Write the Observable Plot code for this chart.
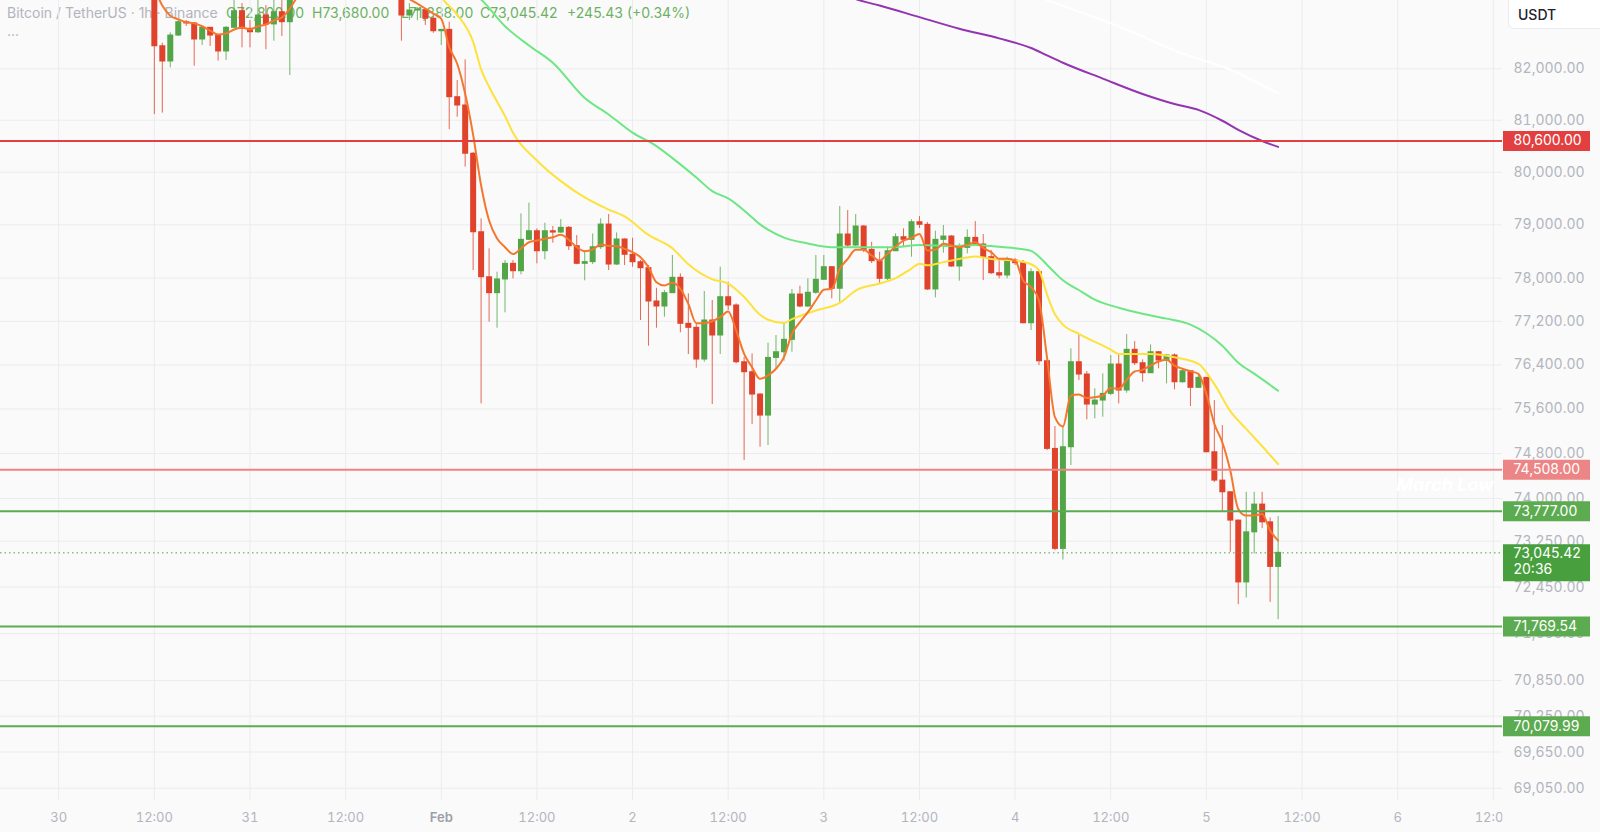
<!DOCTYPE html>
<html>
<head>
<meta charset="utf-8">
<script src="https://cdn.jsdelivr.net/npm/d3@7"></script>
<script src="https://cdn.jsdelivr.net/npm/@observablehq/plot@0.6"></script>
<style>
  html, body { margin: 0; padding: 0; background: #fafafa; }
  #wrap { position: relative; width: 1600px; height: 832px; overflow: hidden; font-family: Inter, "Noto Sans", sans-serif; }
  .leg { position: absolute; top: 4px; font-size: 14px; line-height: 18px; white-space: nowrap; color: #6db165; }
  .leg.title { color: #b2b4bd; }
  #dots { position: absolute; left: 7px; top: 22px; font-size: 14px; line-height: 18px; color: #b2b4bd; }
  #chart { position: absolute; left: 0; top: 0; z-index: 1; }
  #usdt { position: absolute; z-index: 2; left: 1508px; top: -6px; width: 110px; height: 35px; background: #fff; border: 1px solid #e9ebf0; border-radius: 6px; box-sizing: border-box; }
  #usdt span { position: absolute; left: 9px; top: 12px; font-size: 14px; font-weight: 500; color: #1e222d; line-height: 16px; }
</style>
</head>
<body>
<div id="wrap">
  <div class="leg title" id="legTitle" style="left:7px"></div>
  <div class="leg" id="legO" style="left:226px"></div>
  <div class="leg" id="legH" style="left:312px"></div>
  <div class="leg" id="legL" style="left:401px"></div>
  <div class="leg" id="legC" style="left:480px"></div>
  <div class="leg" id="legChg" style="left:567px"></div>
  <div id="dots">...</div>
  <div id="chart"></div>
  <div id="usdt"><span id="quote"></span></div>
</div>
<script>
// ---------- DATA ----------
const symbolTitle = "Bitcoin / TetherUS · 1h · Binance";
const quoteCurrency = "USDT";
const legendOpen = 72800.00, legendHigh = 73680.00, legendLow = 71888.00, legendClose = 73045.42;
const legendChange = 245.43, legendChangePct = 0.34;
const countdown = "20:36";
const annotation = "March Low";

// hours are counted from 2026-01-30 00:00 UTC
const firstCandleHour = 12;
const open = [83700,82445,82145,82656,82920,82895,82578,82809,82656,82342,82809,83138,82789,82721,83053,82876,83118,82920,
  null,null,null,null,null,null,null,null,null,null,null,null,null,
  83500,83053,83152,83160,82988,82741,82768,81447,81286,80354,78861,78018,77721,77976,78268,78130,78718,78880,78504,78880,
  78855,78944,78598,78268,78300,78579,79006,78255,78724,78437,78298,78186,77567,77474,77721,78007,77154,77080,76498,77215,
  76939,77646,77493,76449,76267,75861,75481,76528,76632,76860,77696,77474,77728,77970,78205,77803,78818,78611,78969,78530,
  78317,77988,78504,78767,78718,79050,79001,77790,78718,78780,78218,78567,78755,78630,78392,78093,78050,78330,78280,77165,
  78112,76467,74882,73114,74912,76449,76225,75680,75752,75873,76407,75934,76676,76431,76249,76632,76480,76572,76084,76285,
  75983,76164,74822,74317,74110,73610,72531,73404,73892,73580,72800];
const high = [83950,82505,82709,82974,82954,82915,82835,82815,82676,82835,83380,83290,82954,83360,83250,83400,83420,83700,
  null,null,null,null,null,null,null,null,null,null,null,null,null,
  83600,83290,83210,83190,83022,82775,82920,81773,82178,80380,79114,78549,78112,78330,78330,79209,79410,78925,79031,78969,
  79100,78969,78799,78517,78830,79114,79195,78849,78737,78748,78330,78237,77814,77771,78424,78081,77710,77154,77752,77585,
  78205,77925,77524,76541,76602,75874,76797,76939,77172,77789,77851,77988,78424,78424,78218,79347,79271,79195,78985,78673,
  78485,78592,78830,78925,79095,79157,79044,78880,78988,78799,78642,78906,79063,78818,78517,78330,78392,78367,78330,78174,
  78143,76480,75283,75283,76694,76939,76280,75965,76237,76572,76584,76958,76828,76492,76767,76645,76590,76602,76329,76298,
  76225,76170,75752,75301,74122,73620,74110,74110,74110,73657,73680];
const low = [81110,81137,82021,82637,82835,82053,82460,82440,82152,82165,82795,82414,82414,82696,82377,82544,82637,81870,
  null,null,null,null,null,null,null,null,null,null,null,null,null,
  82544,82954,82950,82855,82700,82460,80817,81057,80098,78143,75692,77184,77073,77357,77988,78063,78705,78268,78343,78654,
  78840,78517,78250,77951,78255,78536,78143,78237,78237,78205,77215,76742,77073,77276,77715,76988,76590,76340,76449,75680,
  76590,77400,76420,74674,75319,74912,74943,76329,76467,76632,77450,77456,77700,77957,77616,77553,78567,78590,78480,78274,
  77882,77957,78498,78579,78392,78931,77771,77635,78467,78199,77944,78455,78592,77957,78068,77988,77988,78237,77154,77031,
  76389,74852,73084,72921,74584,76115,75404,75422,75452,75843,75692,75885,76389,76084,76243,76329,76055,75946,76070,75644,
  75970,74816,74282,73756,73054,72146,72261,73026,73469,72186,71888];
const close = [82445,82145,82656,82920,82895,82578,82809,82656,82342,82809,83138,82789,82721,83053,82876,83118,82920,83550,
  null,null,null,null,null,null,null,null,null,null,null,null,null,
  83053,83152,83170,82988,82741,82768,81447,81286,80354,78861,78018,77721,77976,78268,78130,78718,78880,78504,78880,78855,
  78944,78598,78268,78300,78579,79006,78255,78724,78437,78298,78186,77567,77474,77721,78007,77154,77080,76498,77215,76939,
  77646,77493,76449,76267,75861,75481,76528,76632,76860,77696,77474,77728,77970,78205,77803,78818,78611,78969,78530,78317,
  77988,78504,78767,78718,79050,79001,77790,78718,78780,78218,78567,78755,78630,78392,78093,78050,78330,78280,77165,78112,
  76467,74882,73114,74912,76449,76225,75680,75752,75873,76407,75934,76676,76431,76249,76632,76480,76572,76084,76285,75983,
  76164,74822,74317,74110,73610,72531,73404,73892,73580,72800,73045.42];

// fast EMA (orange), one value per candle hour from hour 12
const emaFast = [83600,83250,83050,82978,82919,82900,82840,82755,82676,82696,82775,82815,82775,82840,82875,82954,83013,83190,83450,
  null,null,null,null,null,null,null,null,null,null,null,null,
  83480,83380,83290,83190,83093,82988,82427,82100,81513,80716,79747,79082,78743,78580,78450,78555,78673,78705,78740,78767,
  78812,78718,78580,78504,78536,78630,78605,78598,78549,78486,78392,78205,77925,77864,77914,77802,77524,77165,77165,77202,
  77276,77381,77031,76602,76358,76146,76210,76330,76542,76971,77185,77369,77585,77784,77803,78174,78361,78530,78530,78424,
  78330,78455,78592,78705,78755,78830,78517,78530,78643,78611,78579,78624,78673,78567,78486,78361,78361,78330,77957,77833,
  77585,76541,75451,75283,75843,75861,75800,75812,75843,75982,75964,76128,76280,76310,76389,76462,76493,76389,76329,76285,
  76237,75873,75331,75001,74495,73816,73698,73698,73728,73434,73259];

// mid EMA (yellow)
const emaMidHours = [47,48,50,52,53,54,56,57,60,63,66,69,71,74,77,79,82,84,86,88,89,91,92,95,98,100,103,105,107,108,109,111,113,115,117,120,122,123,124,125,126,128,132,133,137,140,143,145,147,149,151,153];
const emaMid = [83700,83420,83070,82530,81990,81650,81080,80760,80225,79830,79520,79290,79160,78810,78560,78260,77980,77900,77650,77320,77230,77170,77240,77400,77540,77770,77900,78000,78180,78270,78240,78300,78360,78405,78360,78330,78260,78150,77700,77330,77140,76970,76680,76600,76600,76540,76420,76050,75560,75240,74930,74610];

// slow EMA (light green)
const emaSlowHours = [52,53,56,59,62,66,69,72,75,77,80,82,84,87,88,89,91,94,97,101,105,108,112,115,117,120,122,123,124,125,126,128,130,133,136,139,142,144,146,148,150,153];
const emaSlow = [83500,83370,82840,82460,82120,81430,81110,80760,80500,80270,79900,79640,79500,79140,79010,78910,78760,78650,78580,78580,78580,78620,78600,78620,78600,78560,78510,78400,78250,78100,77960,77780,77600,77450,77340,77250,77140,76980,76750,76440,76240,75930];

// long MA (purple) and very long MA (white)
const maLongHours = [99,100,103,108,113,118,122,124,126,131,136,140,143,146,148,151,153];
const maLong = [83440,83380,83250,83020,82790,82600,82410,82265,82120,81810,81510,81315,81200,80990,80815,80600,80485];
const maVeryLongHours = [123,128,132,136,140,144,147,150,153];
const maVeryLong = [83420,83130,82900,82640,82360,82150,81990,81760,81520];

// horizontal levels
const levelPrices = [80600, 74508, 73777, 71769.54, 70079.99];
const levelKinds = ["resistance", "resistanceSoft", "support", "support", "support"];
const lastPrice = 73045.42;

// axis ticks
const yTicks = [82000,81000,80000,79000,78000,77200,76400,75600,74800,74000,73250,72450,71650,70850,70250,69650,69050];
const xTickHours = [0,12,24,36,48,60,72,84,96,108,120,132,144,156,168,180];

// ---------- STYLE ----------
const baseTime = Date.UTC(2026, 0, 30, 0, 0);
const at = h => new Date(baseTime + h * 3600e3);
const upColor = "#53a548", downColor = "#e0432c";
const levelColor = {resistance: "#e24040", resistanceSoft: "#ec8585", support: "#5cab50"};
const axisColor = "#b3b5be";
const fmt2 = d3.format(",.2f");

document.getElementById("legTitle").textContent = symbolTitle;
document.getElementById("legO").textContent = "O" + fmt2(legendOpen);
document.getElementById("legH").textContent = "H" + fmt2(legendHigh);
document.getElementById("legL").textContent = "L" + fmt2(legendLow);
document.getElementById("legC").textContent = "C" + fmt2(legendClose);
document.getElementById("legChg").textContent = "+" + fmt2(legendChange) + " (+" + legendChangePct.toFixed(2) + "%)";
document.getElementById("quote").textContent = quoteCurrency;

const candles = open.map((o, i) => ({
  time: at(firstCandleHour + i), open: o, high: high[i], low: low[i], close: close[i]
})).filter(d => d.open != null);
const candleColor = d => d.close >= d.open ? upColor : downColor;

const fastLine = emaFast.map((v, i) => ({time: at(firstCandleHour + i), v}));
const series = (hs, vs) => hs.map((h, i) => ({time: at(h), v: vs[i]}));
const midLine = series(emaMidHours, emaMid);
const slowLine = series(emaSlowHours, emaSlow);
const longLine = series(maLongHours, maLong);
const veryLongLine = series(maVeryLongHours, maVeryLong);

const levels = levelPrices.map((p, i) => ({price: p, color: levelColor[levelKinds[i]]}));
const xTicks = xTickHours.map(at);
const isFeb1 = d => d.getUTCDate() === 1 && d.getUTCHours() === 0;
const tickLabel = d => d.getUTCHours() === 12 ? "12:00" : (d.getUTCDate() === 1 ? d3.utcFormat("%b")(d) : String(d.getUTCDate()));

const chart = Plot.plot({
  width: 1600, height: 832,
  marginLeft: 0, marginRight: 98, marginTop: 0, marginBottom: 32,
  style: {background: "transparent", fontFamily: "Inter, 'Noto Sans', sans-serif", fontSize: "13px", overflow: "visible"},
  x: {type: "utc", domain: [at(-7.302), at(181.154)], axis: null},
  y: {type: "log", domain: [68848, 83351], axis: null},
  marks: [
    Plot.gridX(xTicks, {stroke: "#ececef", strokeOpacity: 1}),
    Plot.gridY(yTicks, {stroke: "#ececef", strokeOpacity: 1}),
    Plot.axisY(yTicks, {anchor: "right", tickSize: 0, tickPadding: 11, tickFormat: fmt2, color: axisColor, fontSize: 14, label: null}),
    Plot.axisX(xTicks.filter(d => !isFeb1(d)), {anchor: "bottom", tickSize: 0, tickPadding: 12, tickFormat: tickLabel, color: axisColor, fontSize: 13, label: null}),
    Plot.axisX(xTicks.filter(isFeb1), {anchor: "bottom", tickSize: 0, tickPadding: 12, tickFormat: tickLabel, color: "#9c9ea8", fontWeight: 600, fontSize: 13, label: null}),
    // wicks
    Plot.ruleX(candles, {x: "time", y1: "low", y2: "high", stroke: candleColor, strokeOpacity: 0.8, strokeWidth: 1, clip: true}),
    // bodies
    Plot.ruleX(candles, {x: "time", y1: d => Math.max(d.open, d.close), y2: d => Math.min(d.open, d.close),
      stroke: candleColor, strokeWidth: 6, insetTop: -0.5, insetBottom: -0.5, clip: true}),
    // moving averages
    Plot.line(veryLongLine, {x: "time", y: "v", stroke: "#ffffff", strokeWidth: 2, curve: "monotone-x", clip: true}),
    Plot.line(longLine, {x: "time", y: "v", stroke: "#9334b0", strokeWidth: 2, curve: "monotone-x", clip: true}),
    Plot.line(slowLine, {x: "time", y: "v", stroke: "#6ee684", strokeWidth: 2, curve: "monotone-x", clip: true}),
    Plot.line(midLine, {x: "time", y: "v", stroke: "#fde23e", strokeWidth: 2, curve: "monotone-x", clip: true}),
    Plot.line(fastLine, {x: "time", y: "v", stroke: "#f5772d", strokeWidth: 2, curve: "monotone-x", clip: true}),
    // levels
    Plot.ruleY(levels, {y: "price", stroke: "color", strokeWidth: 2}),
    Plot.ruleY([lastPrice], {stroke: "#4fa446", strokeWidth: 1, strokeDasharray: "1.5 3"}),
    Plot.text([annotation], {y: () => levelPrices[1], text: d => d, frameAnchor: "right", dx: -9, dy: 15, textAnchor: "end",
      fill: "#ffffff", fontSize: 18, fontWeight: 700, fontStyle: "italic"}),
    // price labels on the axis
    Plot.ruleY(levels, {y: "price", stroke: "color", strokeWidth: 20, insetLeft: 1503, insetRight: -88}),
    Plot.text(levels, {y: "price", text: d => fmt2(d.price), frameAnchor: "right", dx: 11, textAnchor: "start", fill: "white", fontSize: 14}),
    Plot.ruleY([lastPrice], {stroke: "#47a03d", strokeWidth: 37, insetLeft: 1503, insetRight: -88, dy: 10}),
    Plot.text([lastPrice], {y: d => d, text: d => fmt2(d), frameAnchor: "right", dx: 11, dy: 1, textAnchor: "start", fill: "white", fontSize: 14}),
    Plot.text([lastPrice], {y: d => d, text: () => countdown, frameAnchor: "right", dx: 11, dy: 17, textAnchor: "start", fill: "white", fontSize: 14}),
  ]
});

document.getElementById("chart").appendChild(chart);

// clip x-axis labels to the plotting frame
const ns = "http://www.w3.org/2000/svg";
const defs = document.createElementNS(ns, "defs");
const cp = document.createElementNS(ns, "clipPath");
cp.setAttribute("id", "xclip");
const r = document.createElementNS(ns, "rect");
r.setAttribute("x", 0); r.setAttribute("y", 0); r.setAttribute("width", 1502); r.setAttribute("height", 832);
cp.appendChild(r); defs.appendChild(cp); chart.insertBefore(defs, chart.firstChild);
chart.querySelectorAll('[aria-label="x-axis tick label"]').forEach(g => g.setAttribute("clip-path", "url(#xclip)"));
</script>
</body>
</html>
